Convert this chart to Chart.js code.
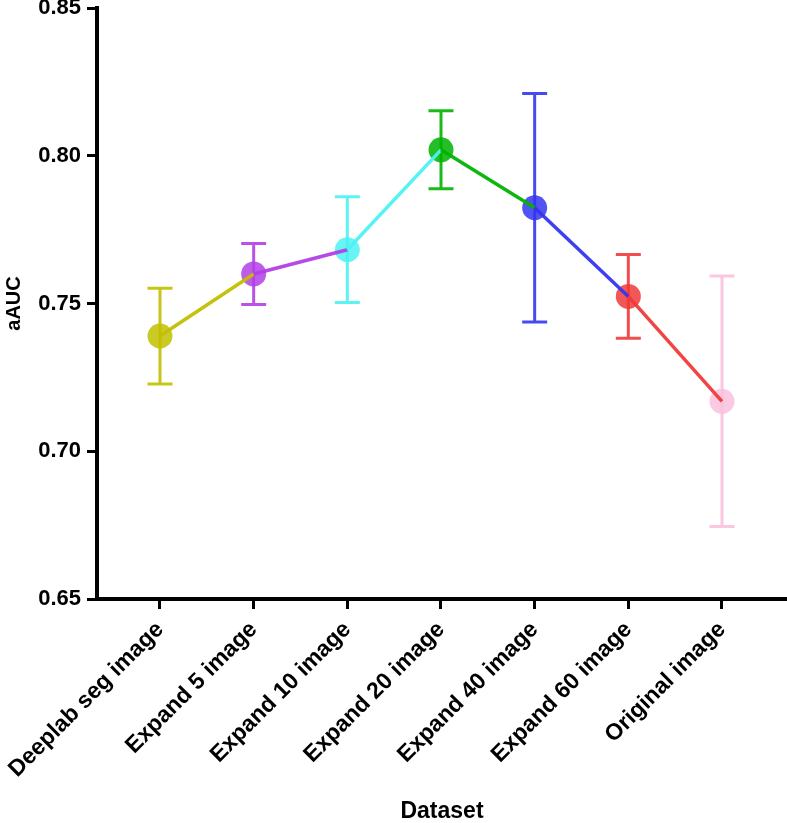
<!DOCTYPE html>
<html>
<head>
<meta charset="utf-8">
<script src="https://cdn.jsdelivr.net/npm/chart.js@4.4.1/dist/chart.umd.min.js"></script>
<style>
  html, body { margin: 0; padding: 0; background: #fff; }
  #wrap { width: 787px; height: 823px; position: relative; }
</style>
</head>
<body>
<div id="wrap"><canvas id="chart"></canvas></div>
<script>
// data
const categories = ['Deeplab seg image', 'Expand 5 image', 'Expand 10 image', 'Expand 20 image',
  'Expand 40 image', 'Expand 60 image', 'Original image'];
const means = [0.739, 0.760, 0.7682, 0.802, 0.7824, 0.7524, 0.7169];
const errors = [0.0162, 0.0103, 0.0179, 0.0132, 0.0387, 0.0142, 0.0424];
const yTicks = [0.65, 0.70, 0.75, 0.80, 0.85];

// one colour per dataset group
const colors = ['#c2bf00', '#b23fe6', '#4cf2f2', '#00b300', '#3535ee', '#f03a3a', '#f9c1dd'];

function withAlpha(hex, a) {
  const n = parseInt(hex.slice(1), 16);
  return `rgba(${(n >> 16) & 255}, ${(n >> 8) & 255}, ${n & 255}, ${a})`;
}

const points = means.map((m, i) => ({ x: i, y: m }));

// error bars drawn under the lines and markers
const errorBars = {
  id: 'errorBars',
  beforeDatasetsDraw(chart) {
    const { ctx, scales: { x, y } } = chart;
    ctx.save();
    ctx.lineWidth = 3;
    means.forEach((m, i) => {
      const px = x.getPixelForValue(i);
      const top = y.getPixelForValue(m + errors[i]);
      const bot = y.getPixelForValue(m - errors[i]);
      ctx.strokeStyle = withAlpha(colors[i], 0.9);
      ctx.beginPath();
      ctx.moveTo(px, top); ctx.lineTo(px, bot);
      ctx.moveTo(px - 12.5, top); ctx.lineTo(px + 12.5, top);
      ctx.moveTo(px - 12.5, bot); ctx.lineTo(px + 12.5, bot);
      ctx.stroke();
    });
    ctx.restore();
  }
};

const boldFont = (size, lh) => ({ family: "'Liberation Sans', Arial, sans-serif", weight: 'bold', size: size, lineHeight: lh || 1.2 });

new Chart(document.getElementById('chart'), {
  type: 'scatter',
  data: {
    datasets: [
      {
        // connecting segments, coloured by the starting point
        data: points,
        showLine: true,
        pointRadius: 0,
        borderWidth: 3.5,
        segment: { borderColor: c => withAlpha(colors[c.p0DataIndex], 0.95) },
        order: 0
      },
      {
        data: points,
        showLine: false,
        pointRadius: 12.5,
        pointHoverRadius: 12.5,
        pointBorderWidth: 0,
        pointBackgroundColor: colors.map(c => withAlpha(c, 0.85)),
        order: 1
      }
    ]
  },
  options: {
    responsive: true,
    maintainAspectRatio: false,
    animation: false,
    layout: { autoPadding: false, padding: { top: 8, right: 0, left: 0, bottom: 0 } },
    plugins: { legend: { display: false }, tooltip: { enabled: false } },
    scales: {
      x: {
        type: 'linear',
        min: -0.6726,
        max: 6.694,
        afterBuildTicks: s => { s.ticks = categories.map((c, i) => ({ value: i })); },
        afterFit: s => { s.height = 224; s.paddingLeft = 0; s.paddingRight = 0; },
        ticks: {
          autoSkip: false,
          minRotation: 45,
          maxRotation: 45,
          padding: 12,
          color: '#000',
          font: boldFont(23, 0.6),
          callback: v => categories[v]
        },
        grid: { drawOnChartArea: false, drawTicks: true, tickLength: 10, tickWidth: 3, tickColor: '#000' },
        border: { color: '#000', width: 4 },
        title: {
          display: true,
          text: 'Dataset',
          color: '#000',
          font: boldFont(23, 1),
          padding: { top: 0, bottom: 0 }
        }
      },
      y: {
        min: 0.65,
        max: 0.85,
        afterBuildTicks: s => { s.ticks = yTicks.map(v => ({ value: v })); },
        afterFit: s => { s.width = 97; s.paddingTop = 0; s.paddingBottom = 0; },
        ticks: {
          padding: 6,
          color: '#000',
          font: boldFont(22),
          callback: v => v.toFixed(2)
        },
        grid: { drawOnChartArea: false, drawTicks: true, tickLength: 10, tickWidth: 3, tickColor: '#000' },
        border: { color: '#000', width: 4 },
        title: {
          display: true,
          text: 'aAUC',
          color: '#000',
          font: boldFont(20, 1),
          padding: { top: 4, bottom: 0 }
        }
      }
    }
  },
  plugins: [errorBars]
});
</script>
</body>
</html>
